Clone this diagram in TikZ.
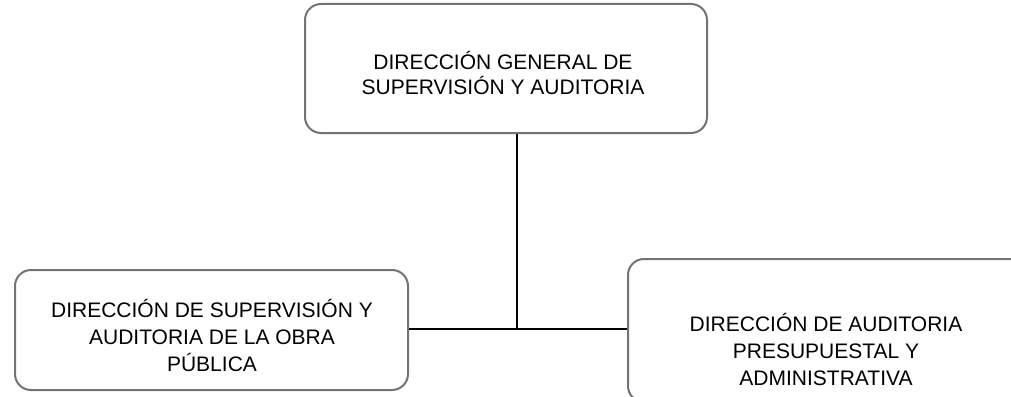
\documentclass[tikz,border=0pt]{standalone}
\usepackage{fontspec}
\setmainfont{Liberation Sans}
\begin{document}
\begin{tikzpicture}[x=1pt,y=1pt,
  orgbox/.style={draw=black!55, line width=2pt, rounded corners=16pt, rectangle, inner sep=0pt},
  orgtext/.style={align=center, inner sep=0pt, font=\fontsize{21}{27}\selectfont},
  link/.style={draw=black, line width=1.4pt}]
\useasboundingbox (0,0) rectangle (1011,-396);
\clip (0,0) rectangle (1011,-396);
\node[orgbox, minimum width=402pt, minimum height=129pt] (top) at (506,-68.5) {};
\node[orgbox, minimum width=393pt, minimum height=120pt] (lft) at (211.5,-330) {};
\node[orgbox, minimum width=412pt, minimum height=143pt] (rgt) at (834,-330.5) {};
\node[orgtext, font=\fontsize{21}{25}\selectfont] (topt) at (503,-73) {DIRECCIÓN GENERAL DE\\SUPERVISIÓN Y AUDITORIA};
\node[orgtext] (lftt) at (212,-335) {DIRECCIÓN DE SUPERVISIÓN Y\\AUDITORIA DE LA OBRA\\PÚBLICA};
\node[orgtext] (rgtt) at (826,-349) {DIRECCIÓN DE AUDITORIA\\PRESUPUESTAL Y\\ADMINISTRATIVA};
\coordinate (j) at (517,-329);
\draw[link] (j |- top.south) -- (j);
\draw[link] (lft.east |- j) -- (rgt.west |- j);
\end{tikzpicture}
\end{document}
